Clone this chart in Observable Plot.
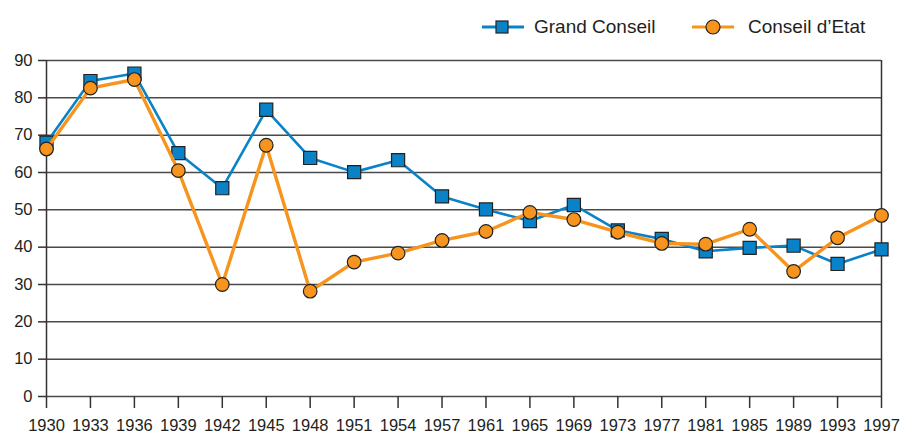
<!DOCTYPE html>
<html>
<head>
<meta charset="utf-8">
<script src="https://cdn.jsdelivr.net/npm/d3@7"></script>
<script src="https://cdn.jsdelivr.net/npm/@observablehq/plot@0.6"></script>
<style>
  body { margin: 0; background: #fff; font-family: "Liberation Sans", Arial, sans-serif; }
  #wrap { width: 900px; height: 434px; position: relative; overflow: hidden; }
  #legend { position: absolute; left: 0; top: 0; width: 900px; height: 44px; font-size: 19px; color: #231f20; z-index: 2; }
  .item { position: absolute; top: 16px; display: flex; align-items: center; }
  .item svg { display: block; }
  .item span { margin-left: 10px; line-height: 22px; }
  #chart svg { display: block; }
</style>
</head>
<body>
<div id="wrap">
  <div id="legend">
    <div class="item" style="left:482px">
      <svg width="42" height="22"><line x1="0" x2="42" y1="11" y2="11" stroke="#0a82c8" stroke-width="3"/><rect x="14" y="5" width="12" height="12" fill="#0a82c8" stroke="#222" stroke-width="1.2"/></svg>
      <span>Grand Conseil</span>
    </div>
    <div class="item" style="left:692px">
      <svg width="42" height="22"><line x1="0" x2="42" y1="11" y2="11" stroke="#f7941d" stroke-width="3"/><circle cx="21" cy="11" r="7" fill="#f7941d" stroke="#222" stroke-width="1.2"/></svg>
      <span style="margin-left:14px">Conseil d’Etat</span>
    </div>
  </div>
  <div id="chart"></div>
</div>
<script>
const years = ["1930","1933","1936","1939","1942","1945","1948","1951","1954","1957","1961","1965","1969","1973","1977","1981","1985","1989","1993","1997"];
const grandConseil = [68, 84.5, 86.5, 65.2, 55.8, 76.8, 63.9, 60.1, 63.3, 53.6, 50.1, 47, 51.3, 44.5, 42.2, 38.9, 39.8, 40.4, 35.5, 39.4];
const conseilEtat = [66.3, 82.6, 84.9, 60.5, 30, 67.3, 28.2, 36, 38.4, 41.8, 44.2, 49.3, 47.4, 44, 41, 40.8, 44.8, 33.5, 42.5, 48.5];
const yTicks = [0, 10, 20, 30, 40, 50, 60, 70, 80, 90];

const gc = years.map((y, i) => ({year: y, value: grandConseil[i]}));
const ce = years.map((y, i) => ({year: y, value: conseilEtat[i]}));

const blue = "#0a82c8", orange = "#f7941d";

const chart = Plot.plot({
  width: 900,
  height: 434,
  marginTop: 60,
  marginBottom: 38,
  marginLeft: 46,
  marginRight: 19,
  style: {fontFamily: "'Liberation Sans', Arial, sans-serif", fontSize: "16.5px", color: "#231f20", background: "#fff", overflow: "visible"},
  x: {type: "point", domain: years, padding: 0, inset: 0, round: false, label: null},
  y: {domain: [0, 90], label: null},
  marks: [
    Plot.gridY(yTicks, {stroke: "#4a4a4a", strokeOpacity: 1, strokeWidth: 1.5}),
    Plot.ruleX([years[0], years[years.length - 1]], {y1: 0, y2: 90, stroke: "#333", strokeWidth: 1.5}),
    Plot.axisY(yTicks, {tickSize: 8, tickPadding: 6, stroke: "#333", strokeWidth: 1.5, fill: "#231f20", label: null}),
    Plot.axisX(years, {tickSize: 12, tickPadding: 11, stroke: "#333", strokeWidth: 1.5, fill: "#231f20", label: null}),
    Plot.line(gc, {x: "year", y: "value", stroke: blue, strokeWidth: 2.6}),
    Plot.dot(gc, {x: "year", y: "value", symbol: "square", r: 7.4, fill: blue, stroke: "#222", strokeWidth: 1.2}),
    Plot.line(ce, {x: "year", y: "value", stroke: orange, strokeWidth: 3.4}),
    Plot.dot(ce, {x: "year", y: "value", symbol: "circle", r: 6.8, fill: orange, stroke: "#222", strokeWidth: 1.2})
  ]
});
document.getElementById("chart").appendChild(chart);
</script>
</body>
</html>
